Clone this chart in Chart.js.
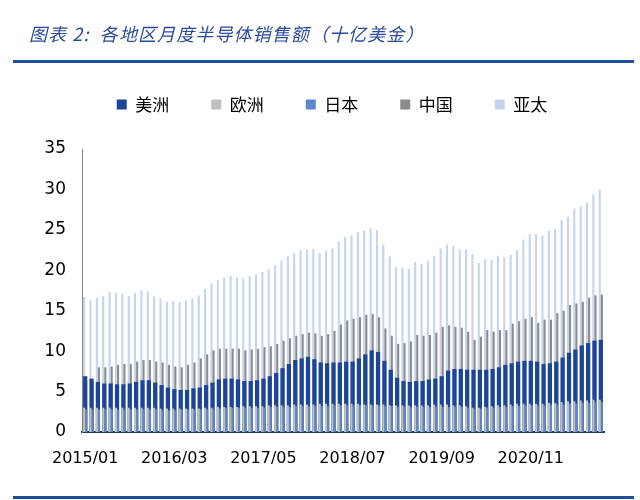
<!DOCTYPE html>
<html>
<head>
<meta charset="utf-8">
<script src="https://cdn.jsdelivr.net/npm/chart.js@4.4.1/dist/chart.umd.min.js"></script>
<style>
    html, body { margin: 0; padding: 0; background: #fff; }
    #wrap { position: relative; width: 640px; height: 500px; overflow: hidden; }
    #salesChart { position: absolute; left: 0; top: 0; }
    .title {
        position: absolute; left: 29px; top: 20px;
        font: italic 18px/26px "Noto Sans CJK SC", sans-serif;
        letter-spacing: 1.1px;
        color: #2b4b9b; white-space: nowrap;
    }
    .rule { position: absolute; left: 13px; width: 621px; height: 3px; background: #1f4e9a; }
</style>
</head>
<body>
<div id="wrap">
    <canvas id="salesChart" width="640" height="500"></canvas>
    <div class="title">图表 2:&nbsp; 各地区月度半导体销售额（十亿美金）</div>
    <div class="rule" style="top:60px"></div>
    <div class="rule" style="top:496px"></div>
</div>
<script>
// Monthly categories, 2015/01 .. 2021/10
const months = [];
for (let y = 2015; y <= 2021; y++) {
    for (let m = 1; m <= 12; m++) {
        if (y === 2021 && m > 10) break;
        months.push(y + '/' + String(m).padStart(2, '0'));
    }
}
const tickLabels = ['2015/01', '2016/03', '2017/05', '2018/07', '2019/09', '2020/11'];

// Values (billion USD)
const americas = [6.9, 6.6, 6.2, 6.0, 6.0, 5.9, 5.9, 6.0, 6.2, 6.4, 6.4, 6.1, 5.8, 5.5, 5.3, 5.2, 5.2, 5.4, 5.5, 5.8, 6.1, 6.5, 6.6,
    6.6, 6.5, 6.3, 6.3, 6.4, 6.6, 6.9, 7.3, 7.9, 8.4, 8.9, 9.1, 9.3, 9.0, 8.6, 8.5, 8.6, 8.6, 8.7, 8.7, 9.1, 9.6, 10.1, 9.9, 8.8, 7.7, 6.7, 6.3, 6.2, 6.3, 6.3, 6.5, 6.6,
    6.9, 7.6, 7.8, 7.8, 7.7, 7.7, 7.7, 7.7, 7.8, 8.0, 8.3, 8.5, 8.7, 8.8, 8.8, 8.7, 8.4, 8.5, 8.7, 9.2, 9.8, 10.2, 10.7, 11.0, 11.3, 11.4];
const europe = [3.0, 3.0, 3.0, 3.0, 3.0, 3.0, 3.0, 3.0, 3.0, 3.0, 3.0, 3.0, 2.9, 2.9, 2.9, 2.9, 2.9, 2.9, 2.9, 3.0, 3.0, 3.1, 3.1,
    3.1, 3.1, 3.2, 3.2, 3.2, 3.2, 3.3, 3.3, 3.3, 3.3, 3.4, 3.4, 3.4, 3.4, 3.5, 3.5, 3.5, 3.5, 3.5, 3.5, 3.5, 3.4, 3.4, 3.4, 3.4, 3.3, 3.3, 3.3, 3.3, 3.3, 3.3, 3.3, 3.4,
    3.4, 3.4, 3.3, 3.3, 3.2, 3.0, 3.0, 3.1, 3.2, 3.3, 3.3, 3.4, 3.5, 3.5, 3.5, 3.5, 3.5, 3.6, 3.6, 3.7, 3.8, 3.8, 3.9, 3.9, 4.0, 4.0];
const japan = [2.8, 2.8, 2.8, 2.8, 2.8, 2.8, 2.8, 2.8, 2.8, 2.8, 2.8, 2.8, 2.7, 2.7, 2.7, 2.8, 2.8, 2.8, 2.8, 2.8, 2.9, 2.9, 3.0,
    3.0, 3.0, 3.0, 3.0, 3.0, 3.0, 3.1, 3.1, 3.1, 3.1, 3.2, 3.2, 3.2, 3.2, 3.2, 3.2, 3.3, 3.3, 3.3, 3.3, 3.3, 3.3, 3.3, 3.3, 3.2, 3.2, 3.1, 3.1, 3.1, 3.1, 3.1, 3.1, 3.1,
    3.1, 3.1, 3.1, 3.1, 3.0, 2.9, 2.9, 3.0, 3.0, 3.1, 3.1, 3.2, 3.2, 3.3, 3.3, 3.3, 3.3, 3.4, 3.4, 3.4, 3.5, 3.5, 3.6, 3.6, 3.7, 3.7];
const china = [6.4, 6.2, 8.0, 8.0, 8.1, 8.3, 8.4, 8.4, 8.7, 8.9, 8.9, 8.7, 8.6, 8.3, 8.1, 8.0, 8.3, 8.6, 9.1, 9.6, 10.1, 10.3, 10.3,
    10.3, 10.3, 10.1, 10.2, 10.3, 10.5, 10.6, 10.9, 11.3, 11.6, 11.9, 12.1, 12.3, 12.2, 11.9, 12.1, 12.5, 13.3, 13.8, 14.0, 14.2, 14.5, 14.6, 14.2, 12.8, 11.9, 10.9, 11.0, 11.2, 12.0, 11.9, 12.0, 12.3,
    13.0, 13.2, 13.0, 12.9, 12.4, 11.4, 11.8, 12.6, 12.4, 12.6, 12.6, 13.4, 13.7, 14.0, 14.2, 13.5, 13.9, 13.9, 14.7, 15.0, 15.7, 15.9, 16.1, 16.6, 16.9, 17.0];
const asiaPac = [16.7, 16.3, 16.6, 16.8, 17.3, 17.2, 17.1, 16.8, 17.2, 17.5, 17.4, 16.8, 16.5, 16.1, 16.2, 16.1, 16.3, 16.5, 16.9, 17.7, 18.4, 18.8, 19.1,
    19.3, 19.1, 19.0, 19.3, 19.5, 19.8, 20.1, 20.6, 21.2, 21.7, 22.1, 22.5, 22.6, 22.6, 22.1, 22.4, 22.7, 23.6, 24.1, 24.3, 24.7, 24.9, 25.2, 25.0, 23.2, 21.7, 20.4, 20.3, 20.2, 21.0, 20.8, 21.2, 21.8,
    22.7, 23.2, 23.0, 22.6, 22.6, 22.0, 20.9, 21.4, 21.3, 21.8, 21.6, 21.9, 22.5, 23.8, 24.5, 24.5, 24.3, 24.9, 25.1, 26.2, 26.6, 27.6, 27.9, 28.3, 29.4, 30.0];

// Legend: leave room below it and nudge it right like the original
const legendTweak = {
    id: 'legendTweak',
    beforeInit(chart) {
        const legend = chart.legend;
        const fit = legend.fit;
        const draw = legend.draw;
        legend.fit = function () {
            fit.call(this);
            this.height = 95;
        };
        legend.draw = function () {
            this.ctx.save();
            this.ctx.translate(30, 0);
            draw.call(this);
            this.ctx.restore();
        };
    }
};

const ctx = document.getElementById('salesChart').getContext('2d');
const salesChart = new Chart(ctx, {
    type: 'bar',
    data: {
        labels: months,
        datasets: [
            // wide bar behind the two narrow columns
            { label: '美洲', data: americas, backgroundColor: '#1b4596', grouped: false, stack: 'A', order: 3 },
            // left column: 欧洲 over 亚太, right column: 日本 over 中国
            { label: '欧洲', data: europe, backgroundColor: '#c0c0c0', stack: 'L', order: 1 },
            { label: '日本', data: japan, backgroundColor: '#5a88cc', stack: 'R', order: 2 },
            { label: '中国', data: china, backgroundColor: '#8c8c8c', stack: 'R', order: 4 },
            { label: '亚太', data: asiaPac, backgroundColor: '#c6d4ee', stack: 'L', order: 5 }
        ]
    },
    options: {
        responsive: false,
        animation: false,
        devicePixelRatio: 1,
        datasets: {
            bar: { categoryPercentage: 0.66, barPercentage: 1.0 }
        },
        layout: {
            padding: { left: 0, right: 36, top: 54, bottom: 28 }
        },
        scales: {
            x: {
                stacked: true,
                grid: { display: false },
                border: { display: true, color: '#1f3864', width: 2 },
                ticks: {
                    autoSkip: false,
                    maxRotation: 0,
                    minRotation: 0,
                    padding: 9,
                    color: '#000',
                    font: { family: 'DejaVu Sans', size: 16 },
                    callback: function (value) {
                        const lab = this.getLabelForValue(value);
                        return tickLabels.includes(lab) ? lab : '';
                    }
                },
                afterFit: (scale) => { scale.height = 40; }
            },
            y: {
                stacked: false,
                min: 0,
                max: 35,
                grid: { display: false },
                border: { display: true, color: '#808080', width: 1 },
                ticks: {
                    stepSize: 5,
                    padding: 8,
                    color: '#000',
                    font: { family: 'DejaVu Sans', size: 17 }
                },
                afterFit: (scale) => { scale.width = 82; }
            }
        },
        plugins: {
            tooltip: { enabled: false },
            legend: {
                position: 'top',
                labels: {
                    boxWidth: 10,
                    boxHeight: 10,
                    padding: 42,
                    color: '#000',
                    font: { family: 'Noto Sans CJK SC', size: 17 },
                    sort: (a, b) => a.datasetIndex - b.datasetIndex
                }
            }
        }
    },
    plugins: [legendTweak]
});
</script>
</body>
</html>
